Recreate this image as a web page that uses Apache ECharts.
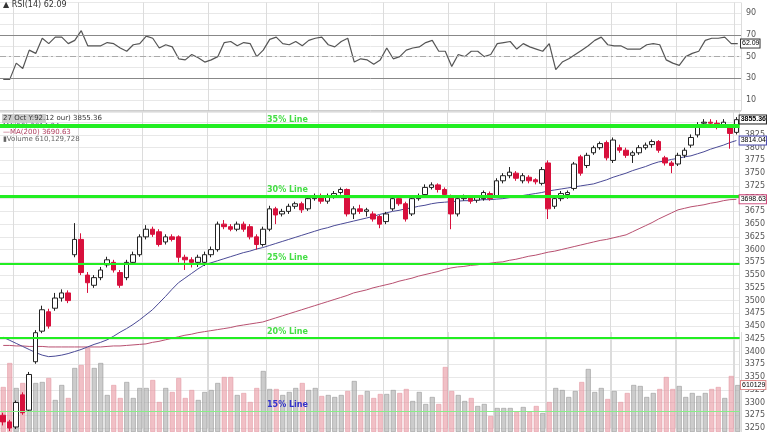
<!DOCTYPE html>
<html>
<head>
<meta charset="utf-8">
<script src="https://cdn.jsdelivr.net/npm/echarts@6/dist/echarts.min.js"></script>
<style>
html,body{margin:0;padding:0;background:#fff;}
#main{width:768px;height:432px;}
</style>
</head>
<body>
<div id="main"></div>
<script>
// 蜡烛 [open, close, low, high]
var candleRows = [
	[3275,3262,3255,3280],[3262,3250,3244,3266],[3252,3300,3248,3304],[3315,3280,3276,3320],
	[3285,3355,3282,3360],[3380,3437,3376,3442],[3440,3482,3436,3490],[3478,3450,3445,3484],
	[3485,3505,3480,3515],[3505,3515,3498,3522],[3515,3500,3495,3520],[3590,3620,3585,3652],
	[3620,3555,3550,3632],[3550,3535,3515,3556],[3530,3545,3525,3550],[3545,3560,3540,3566],
	[3570,3580,3565,3586],[3575,3560,3555,3580],[3555,3530,3525,3560],[3545,3575,3540,3580],
	[3575,3590,3570,3596],[3590,3625,3586,3630],[3625,3640,3620,3648],[3640,3630,3625,3645],
	[3635,3610,3606,3640],[3615,3625,3610,3630],[3625,3620,3616,3630],[3625,3585,3575,3628],
	[3585,3580,3560,3590],[3580,3575,3565,3585],[3575,3585,3566,3590],[3575,3590,3568,3596],
	[3590,3600,3585,3606],[3600,3650,3596,3655],[3650,3645,3640,3658],[3645,3640,3636,3650],
	[3640,3650,3636,3655],[3650,3640,3635,3655],[3645,3625,3620,3650],[3625,3610,3600,3630],
	[3610,3640,3606,3645],[3640,3680,3636,3686],[3680,3668,3650,3684],[3670,3675,3665,3680],
	[3675,3685,3670,3690],[3685,3690,3680,3694],[3690,3678,3672,3694],[3680,3700,3676,3705],
	[3700,3705,3696,3710],[3705,3695,3690,3710],[3695,3705,3690,3710],[3705,3710,3700,3715],
	[3712,3718,3708,3722],[3718,3670,3665,3720],[3670,3680,3660,3685],[3680,3675,3670,3688],
	[3675,3678,3665,3682],[3670,3660,3655,3675],[3665,3650,3642,3668],[3655,3670,3650,3674],
	[3680,3700,3676,3706],[3700,3690,3686,3704],[3690,3660,3655,3694],[3670,3700,3666,3704],
	[3700,3705,3696,3710],[3708,3722,3704,3728],[3722,3727,3718,3732],[3727,3718,3712,3730],
	[3718,3708,3704,3722],[3705,3670,3640,3708],[3670,3700,3665,3705],[3700,3703,3696,3708],
	[3702,3695,3690,3706],[3697,3702,3692,3706],[3700,3712,3696,3716],[3710,3700,3696,3714],
	[3705,3735,3702,3740],[3735,3745,3730,3750],[3745,3752,3740,3762],[3750,3740,3735,3754],
	[3735,3745,3730,3750],[3742,3735,3730,3746],[3737,3733,3728,3740],[3730,3757,3726,3762],
	[3770,3680,3660,3775],[3685,3700,3680,3705],[3700,3710,3695,3715],[3708,3712,3700,3716],
	[3720,3768,3716,3772],[3782,3750,3745,3786],[3765,3785,3760,3790],[3790,3800,3786,3804],
	[3800,3808,3796,3812],[3810,3780,3775,3814],[3775,3815,3770,3820],[3800,3795,3790,3806],
	[3795,3785,3780,3800],[3785,3790,3770,3794],[3790,3800,3786,3805],[3800,3805,3796,3810],
	[3806,3812,3800,3816],[3812,3795,3790,3815],[3780,3770,3765,3784],[3770,3765,3750,3774],
	[3768,3785,3764,3790],[3785,3795,3780,3800],[3805,3820,3800,3826],[3825,3845,3820,3850],
	[3848,3850,3844,3856],[3850,3848,3840,3856],[3848,3842,3836,3854],[3845,3850,3840,3856],
	[3840,3828,3798,3846],[3830,3855,3826,3860]
];
var ma50 = [
	3428,3422,3416,3410,3404,3398,3393,3390,
	3391,3393,3396,3400,
	3404,3409,3414,3418,3423,
	3430,3438,3445,3453,
	3462,3472,3482,
	3495,3508,3522,3535,
	3544,3553,3562,3570,
	3574,3578,3582,3586,3590,
	3594,3597,3601,3604,
	3608,3612,3616,3620,
	3624,3628,3632,3636,3640,3643,3647,
	3650,3653,3656,3659,3662,3665,3669,3672,
	3675,3677,3680,3682,3685,3687,3690,3692,
	3693,3694,3695,3696,3696,3697,3698,3698,3699,3700,
	3702,3704,3706,3708,3710,3712,3715,
	3717,3719,3721,3723,3725,3727,3729,
	3733,3737,3742,3746,3750,3755,3759,3763,3768,3772,
	3774,3777,3779,3782,3784,
	3788,3792,3797,3801,3805,3810,3814.04
];
var ma200 = [
	3412,3412,3411,3411,3410,3410,3410,3409,3409,3409,3409,3409,3409,3409,3409,3409,
	3410,3411,3411,3412,3413,3414,3415,
	3418,3420,3423,3426,3429,3432,3434,3437,3439,
	3441,3443,3445,3447,3450,3452,3454,3456,3458,
	3462,3466,3470,3474,3478,3482,3486,3490,3494,3498,3502,3506,3510,3515,
	3518,3521,3525,3528,3531,3534,3538,3541,
	3544,3548,3551,3554,3557,3561,3564,
	3566,3567,3569,3570,3572,3573,3575,3576,
	3579,3581,3584,3587,3589,3592,3595,3597,3600,
	3603,3606,3609,3612,3615,3618,3620,3623,3626,3629,
	3635,3641,3647,3653,3660,3666,3672,3678,
	3681,3684,3686,3688,3691,3693,3696,3698,3698.63
];
// 成交量 (百万)
var volumes = [
	585,897,572,637,507,637,650,702,416,611,442,832,871,1092,832,897,481,611,442,650,
	442,572,572,676,390,572,520,702,442,546,416,520,546,637,715,715,481,507,390,572,
	793,559,559,481,520,572,637,546,572,468,481,455,481,533,663,481,533,442,494,494,
	546,507,559,403,520,364,455,364,845,533,481,403,442,338,364,208,312,312,
	312,260,325,260,338,247,390,572,546,455,533,650,819,520,572,429,533,390,507,611,
	598,455,507,559,715,559,598,455,507,468,507,559,585,442,728,610.13
];
var rsi = [
	29,29,44,39,56,53,67,62,68,68,62,65,74,60,60,60,63,62,58,55,
	61,62,69,67,58,61,59,48,47,52,49,45,47,50,63,64,60,63,62,50,
	56,66,68,62,61,64,60,65,67,68,61,59,64,67,45,48,47,43,47,58,
	48,50,56,58,59,63,65,55,55,41,52,50,55,55,50,52,62,63,
	64,57,62,59,57,55,62,38,45,48,52,56,60,65,68,61,60,60,57,57,
	57,61,62,61,47,44,42,50,53,55,65,67,67,68,62,62.09
];
var levelValues = [3843, 3705, 3572, 3427, 3283];
var levelNames = ['35% Line', '30% Line', '25% Line', '20% Line', '15% Line'];
var monthStarts = [2, 12, 22, 32, 41, 49, 59, 69, 76, 84, 94, 104, 113];

var cats = [];
for (var i = 0; i < candleRows.length; i++) cats.push(i);

var volData = volumes.map(function(v, i) {
	var r = candleRows[i];
	var down = r[1] < r[0];
	return {
		value : v,
		itemStyle : {
			color : down ? 'rgba(232,150,160,0.6)' : 'rgba(170,170,170,0.6)',
			borderColor : down ? '#e49aa4' : '#999',
			borderWidth : 0.6
		}
	};
});

var gridColor = '#e8e8e8';
var splitX = {
	show : true,
	interval : function(idx) { return monthStarts.indexOf(idx) >= 0; },
	lineStyle : { color : '#dcdcdc', width : 1 }
};
function xAx(gi) {
	return {
		type : 'category', gridIndex : gi, data : cats, boundaryGap : true,
		axisLine : { show : false }, axisTick : { show : false }, axisLabel : { show : false },
		splitLine : splitX
	};
}

// 右侧数值标签
function tag(v, text, border, bold) {
	return {
		yAxis : v, lineStyle : { color : 'rgba(0,0,0,0)', width : 0 },
		label : {
			show : true, position : 'end', formatter : text, fontSize : 7, color : '#000',
			fontWeight : bold ? 'bold' : 'normal', distance : 0, fontFamily : 'Liberation Sans',
			borderColor : border, borderWidth : 1, backgroundColor : '#fff', padding : [1, 0, 0, 1]
		}
	};
}

var lineStyles = [
	{ color : '#22ee22', width : 4, type : 'solid' }, { color : '#22ee22', width : 3, type : 'solid' },
	{ color : '#22ee22', width : 2, type : 'solid' }, { color : '#22ee22', width : 2, type : 'solid' },
	{ color : '#88ee88', width : 1, type : 'solid' }
];

var chart = echarts.init(document.getElementById('main'));
var option = {
	animation : false,
	backgroundColor : '#fff',
	textStyle : { fontFamily : 'DejaVu Sans' },
	grid : [
		{ left : 0, right : 27, top : 2.5, height : 108.3 },
		{ left : 0, right : 27, top : 112, height : 316 },
		{ left : 0, right : 27, bottom : 0, height : 100 }
	],
	xAxis : [ xAx(0), xAx(1), xAx(2) ],
	yAxis : [
		{
			gridIndex : 0, position : 'right', min : 0, max : 100, interval : 10,
			axisLine : { show : false }, axisTick : { show : false },
			axisLabel : {
				color : '#555', fontSize : 8, margin : 5,
				formatter : function(v) { return (v % 20 == 10) ? v : ''; }
			},
			splitLine : { lineStyle : { color : gridColor } }
		},
		{
			gridIndex : 1, position : 'right', min : 3250, max : 3870, interval : 25,
			axisLine : { show : false }, axisTick : { show : false },
			axisLabel : {
				color : '#555', fontSize : 8, margin : 5,
				formatter : function(v) { return v >= 3850 ? '' : v; }
			},
			splitLine : { lineStyle : { color : gridColor } }
		},
		{
			gridIndex : 2, position : 'right', min : 0, max : 1300,
			axisLine : { show : false }, axisTick : { show : false },
			axisLabel : { show : false }, splitLine : { show : false }
		}
	],
	series : [
		{
			name : 'RSI', type : 'line', xAxisIndex : 0, yAxisIndex : 0, data : rsi,
			symbol : 'none', lineStyle : { color : '#555', width : 1.2 },
			markLine : {
				silent : true, symbol : 'none',
				data : [
					{ yAxis : 70, lineStyle : { color : '#888', width : 1, type : 'solid' }, label : { show : false } },
					{ yAxis : 30, lineStyle : { color : '#888', width : 1, type : 'solid' }, label : { show : false } },
					{ yAxis : 50, lineStyle : { color : '#aaa', width : 1, type : [6, 3, 2, 3] }, label : { show : false } },
					tag(62.09, '62.09', '#333', false)
				]
			}
		},
		{
			name : 'Volume', type : 'bar', xAxisIndex : 2, yAxisIndex : 2, data : volData,
			barWidth : 5, z : 1,
			markLine : { silent : true, symbol : 'none', data : [ tag(610.13, '610129', '#d88', false) ] }
		},
		{
			name : 'MA200', type : 'line', xAxisIndex : 1, yAxisIndex : 1, data : ma200,
			symbol : 'none', z : 3, lineStyle : { color : '#b85070', width : 1 },
			markLine : { silent : true, symbol : 'none', data : [ tag(3698.63, '3698.63', '#c47', false) ] }
		},
		{
			name : 'MA50', type : 'line', xAxisIndex : 1, yAxisIndex : 1, data : ma50,
			symbol : 'none', z : 3, lineStyle : { color : '#4a4a96', width : 1 },
			markLine : { silent : true, symbol : 'none', data : [ tag(3814.04, '3814.04', '#44a', false) ] }
		},
		{
			name : 'Price', type : 'candlestick', xAxisIndex : 1, yAxisIndex : 1, data : candleRows,
			barWidth : 5, z : 4,
			itemStyle : {
				color : '#ffffff', borderColor : '#222',
				color0 : '#d8103c', borderColor0 : '#d8103c', borderWidth : 1
			},
			markLine : {
				silent : true, symbol : 'none', z : 5,
				data : levelValues.map(function(v, k) {
					return { yAxis : v, lineStyle : lineStyles[k], label : { show : false } };
				}).concat([ tag(3855.36, '3855.36', '#222', true) ])
			}
		}
	]
};
chart.setOption(option);

// 水平线文字 & 图例文字
var g = [];
levelValues.forEach(function(v, k) {
	var py = chart.convertToPixel({ yAxisIndex : 1 }, v);
	g.push({
		type : 'text', left : 267, top : py - 10, z : 10,
		style : {
			text : levelNames[k], fontSize : 8, fontWeight : 'bold',
			fill : k == 4 ? '#3333cc' : '#44dd44', fontFamily : 'DejaVu Sans'
		}
	});
});
g.push({ type : 'line', shape : { x1 : 0, y1 : 110.8, x2 : 741, y2 : 110.8 }, style : { stroke : '#bbb', lineWidth : 1 } });
g.push({ type : 'text', left : 3, top : 1, style : { text : '▲ RSI(14) 62.09', fontSize : 8, fill : '#333', fontFamily : 'DejaVu Sans' } });
g.push({ type : 'rect', shape : { x : 2, y : 114, width : 44, height : 9 }, style : { fill : '#ccc' } });
g.push({ type : 'text', left : 3, top : 115, style : { text : '27 Oct Y:92.12 our) 3855.36', fontSize : 7, fill : '#333', fontFamily : 'DejaVu Sans' } });
g.push({ type : 'text', left : 3, top : 123, style : { text : 'MA(50) 3814.04', fontSize : 7, fill : '#668', fontFamily : 'DejaVu Sans' } });
g.push({ type : 'text', left : 3, top : 129, style : { text : '—MA(200) 3690.63', fontSize : 7, fill : '#b04060', fontFamily : 'DejaVu Sans' } });
g.push({ type : 'text', left : 3, top : 136, style : { text : '▮Volume 610,129,728', fontSize : 7, fill : '#666', fontFamily : 'DejaVu Sans' } });
chart.setOption({ graphic : g });
</script>
</body>
</html>
